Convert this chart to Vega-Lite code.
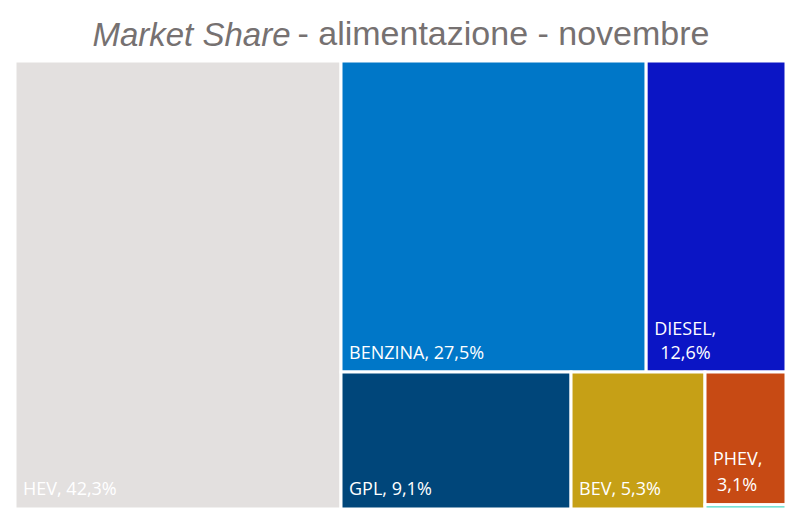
{
  "$schema": "https://vega.github.io/schema/vega-lite/v6.json",
  "background": "white",
  "padding": {"left": 13, "top": 17, "right": 14, "bottom": 14},
  "bounds": "flush",
  "spacing": 0,
  "datasets": {
    "quote": [
      {"alimentazione": "HEV", "quota": 42.3, "etichetta": "HEV, 42,3%", "riga1": "", "riga2": "", "blocco": "sinistra"},
      {"alimentazione": "BENZINA", "quota": 27.5, "etichetta": "BENZINA, 27,5%", "riga1": "", "riga2": "", "blocco": "alto"},
      {"alimentazione": "DIESEL", "quota": 12.6, "etichetta": "", "riga1": "DIESEL,", "riga2": "12,6%", "blocco": "alto"},
      {"alimentazione": "GPL", "quota": 9.1, "etichetta": "GPL, 9,1%", "riga1": "", "riga2": "", "blocco": "basso"},
      {"alimentazione": "BEV", "quota": 5.3, "etichetta": "BEV, 5,3%", "riga1": "", "riga2": "", "blocco": "basso"},
      {"alimentazione": "PHEV", "quota": 3.1, "etichetta": "", "riga1": "PHEV,", "riga2": "3,1%", "blocco": "colonna"},
      {"alimentazione": "Altro", "quota": 0.1, "etichetta": "", "riga1": "", "riga2": "", "blocco": "colonna"}
    ]
  },
  "hconcat": [
    {
      "width": 326,
      "height": 448,
      "title": {"text": "Market Share", "anchor": "end", "dx": -52, "font": "Liberation Sans", "fontSize": 33, "fontStyle": "italic", "fontWeight": "normal", "color": "#767171", "baseline": "alphabetic", "offset": -19},
      "data": {"name": "quote"},
      "transform": [
        {"filter": "datum.blocco === 'sinistra'"},
        {"stack": "quota", "groupby": [], "offset": "normalize", "sort": [{"field": "quota", "order": "descending"}], "as": ["q0", "q1"]}
      ],
      "layer": [
        {
          "mark": {"type": "rect", "stroke": "white", "strokeWidth": 3},
          "encoding": {
            "x": {"field": "q0", "type": "quantitative", "scale": {"domain": [0, 1], "nice": false, "zero": false}, "axis": null},
            "x2": {"field": "q1"},
            "y": {"datum": 0, "type": "quantitative", "scale": {"domain": [0, 1], "nice": false}, "axis": null},
            "y2": {"datum": 1},
            "color": {"field": "alimentazione", "type": "nominal", "legend": null, "scale": {"domain": ["HEV", "BENZINA", "DIESEL", "GPL", "BEV", "PHEV", "Altro"], "range": ["#E3E0DF", "#0077C8", "#0B15C5", "#00467A", "#C6A016", "#C74A14", "#4ED8C6"]}}
          }
        },
        {
          "mark": {"type": "text", "align": "left", "baseline": "alphabetic", "dx": 8, "dy": -14, "font": "Open Sans", "fontSize": 18, "color": "white"},
          "encoding": {
            "x": {"field": "q0", "type": "quantitative"},
            "y": {"datum": 0, "type": "quantitative"},
            "text": {"field": "etichetta", "type": "nominal"}
          }
        }
      ]
    },
    {
      "title": {"text": "- alimentazione - novembre", "anchor": "start", "dx": -42, "font": "Liberation Sans", "fontSize": 34, "fontStyle": "normal", "fontWeight": "normal", "color": "#767171", "baseline": "alphabetic", "offset": -19},
      "bounds": "flush",
      "spacing": 0,
      "vconcat": [
        {
          "width": 445,
          "height": 311,
          "data": {"name": "quote"},
          "transform": [
            {"filter": "datum.blocco === 'alto'"},
            {"stack": "quota", "groupby": [], "offset": "normalize", "sort": [{"field": "quota", "order": "descending"}], "as": ["q0", "q1"]}
          ],
          "layer": [
            {
              "mark": {"type": "rect", "stroke": "white", "strokeWidth": 3},
              "encoding": {
                "x": {"field": "q0", "type": "quantitative", "scale": {"domain": [0, 1], "nice": false, "zero": false}, "axis": null},
                "x2": {"field": "q1"},
                "y": {"datum": 0, "type": "quantitative", "scale": {"domain": [0, 1], "nice": false}, "axis": null},
                "y2": {"datum": 1},
                "color": {"field": "alimentazione", "type": "nominal", "legend": null, "scale": {"domain": ["HEV", "BENZINA", "DIESEL", "GPL", "BEV", "PHEV", "Altro"], "range": ["#E3E0DF", "#0077C8", "#0B15C5", "#00467A", "#C6A016", "#C74A14", "#4ED8C6"]}}
              }
            },
            {
              "mark": {"type": "text", "align": "left", "baseline": "alphabetic", "dx": 8, "dy": -13, "font": "Open Sans", "fontSize": 18, "color": "white"},
              "encoding": {
                "x": {"field": "q0", "type": "quantitative"},
                "y": {"datum": 0, "type": "quantitative"},
                "text": {"field": "etichetta", "type": "nominal"}
              }
            },
            {
              "mark": {"type": "text", "align": "left", "baseline": "alphabetic", "dx": 8, "dy": -37.5, "font": "Open Sans", "fontSize": 18, "color": "white"},
              "encoding": {
                "x": {"field": "q0", "type": "quantitative"},
                "y": {"datum": 0, "type": "quantitative"},
                "text": {"field": "riga1", "type": "nominal"}
              }
            },
            {
              "mark": {"type": "text", "align": "left", "baseline": "alphabetic", "dx": 14, "dy": -13, "font": "Open Sans", "fontSize": 18, "color": "white"},
              "encoding": {
                "x": {"field": "q0", "type": "quantitative"},
                "y": {"datum": 0, "type": "quantitative"},
                "text": {"field": "riga2", "type": "nominal"}
              }
            }
          ]
        },
        {
          "spacing": 0,
          "bounds": "flush",
          "hconcat": [
            {
              "width": 364,
              "height": 137,
              "data": {"name": "quote"},
              "transform": [
                {"filter": "datum.blocco === 'basso'"},
                {"stack": "quota", "groupby": [], "offset": "normalize", "sort": [{"field": "quota", "order": "descending"}], "as": ["q0", "q1"]}
              ],
              "layer": [
                {
                  "mark": {"type": "rect", "stroke": "white", "strokeWidth": 3},
                  "encoding": {
                    "x": {"field": "q0", "type": "quantitative", "scale": {"domain": [0, 1], "nice": false, "zero": false}, "axis": null},
                    "x2": {"field": "q1"},
                    "y": {"datum": 0, "type": "quantitative", "scale": {"domain": [0, 1], "nice": false}, "axis": null},
                    "y2": {"datum": 1},
                    "color": {"field": "alimentazione", "type": "nominal", "legend": null, "scale": {"domain": ["HEV", "BENZINA", "DIESEL", "GPL", "BEV", "PHEV", "Altro"], "range": ["#E3E0DF", "#0077C8", "#0B15C5", "#00467A", "#C6A016", "#C74A14", "#4ED8C6"]}}
                  }
                },
                {
                  "mark": {"type": "text", "align": "left", "baseline": "alphabetic", "dx": 8, "dy": -14, "font": "Open Sans", "fontSize": 18, "color": "white"},
                  "encoding": {
                    "x": {"field": "q0", "type": "quantitative"},
                    "y": {"datum": 0, "type": "quantitative"},
                    "text": {"field": "etichetta", "type": "nominal"}
                  }
                }
              ]
            },
            {
              "width": 81,
              "height": 137,
              "data": {"name": "quote"},
              "transform": [
                {"filter": "datum.blocco === 'colonna'"},
                {"stack": "quota", "groupby": [], "offset": "normalize", "sort": [{"field": "quota", "order": "ascending"}], "as": ["q0", "q1"]}
              ],
              "layer": [
                {
                  "mark": {"type": "rect", "stroke": "white", "strokeWidth": 3},
                  "encoding": {
                    "y": {"field": "q0", "type": "quantitative", "scale": {"domain": [0, 1], "nice": false, "zero": false}, "axis": null},
                    "y2": {"field": "q1"},
                    "x": {"datum": 0, "type": "quantitative", "scale": {"domain": [0, 1], "nice": false}, "axis": null},
                    "x2": {"datum": 1},
                    "color": {"field": "alimentazione", "type": "nominal", "legend": null, "scale": {"domain": ["HEV", "BENZINA", "DIESEL", "GPL", "BEV", "PHEV", "Altro"], "range": ["#E3E0DF", "#0077C8", "#0B15C5", "#00467A", "#C6A016", "#C74A14", "#4ED8C6"]}}
                  }
                },
                {
                  "mark": {"type": "text", "align": "left", "baseline": "alphabetic", "dx": 12, "dy": -14, "font": "Open Sans", "fontSize": 18, "color": "white"},
                  "encoding": {
                    "y": {"field": "q0", "type": "quantitative"},
                    "x": {"datum": 0, "type": "quantitative"},
                    "text": {"field": "riga2", "type": "nominal"}
                  }
                },
                {
                  "mark": {"type": "text", "align": "left", "baseline": "alphabetic", "dx": 8, "dy": -39.5, "font": "Open Sans", "fontSize": 18, "color": "white"},
                  "encoding": {
                    "y": {"field": "q0", "type": "quantitative"},
                    "x": {"datum": 0, "type": "quantitative"},
                    "text": {"field": "riga1", "type": "nominal"}
                  }
                }
              ]
            }
          ]
        }
      ]
    }
  ],
  "config": {
    "view": {"stroke": null},
    "concat": {"spacing": 0}
  }
}
